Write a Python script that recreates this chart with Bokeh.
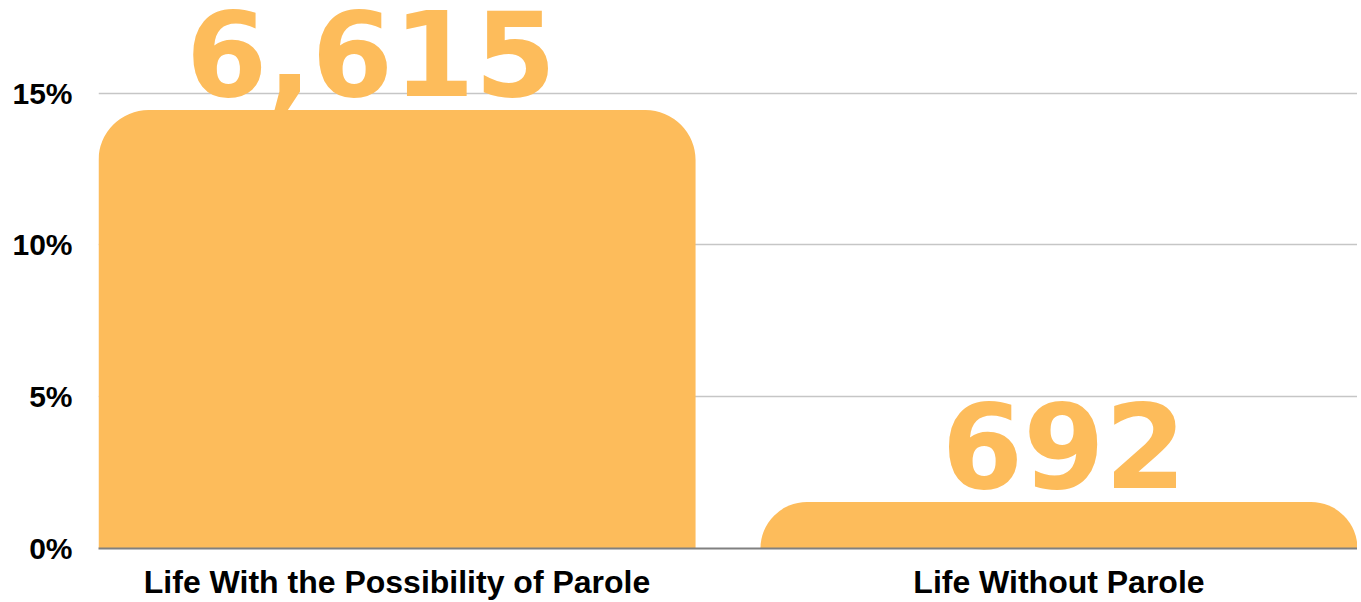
from bokeh.plotting import figure
from bokeh.models import ColumnDataSource, FactorRange, FixedTicker, Range1d
from bokeh.core.properties import value
from bokeh.embed import file_html
from bokeh.resources import INLINE

categories = ["Life With the Possibility of Parole", "Life Without Parole"]
shares = [14.44, 1.53]          # percent of total
counts = ["6,615", "692"]       # value labels
y_ticks = [0, 5, 10, 15]
y_tick_labels = ["0%", "5%", "10%", "15%"]

BAR = "#FDBC5B"
BAR_W = 0.902

p = figure(
    x_range=FactorRange(*categories, range_padding=-(1 - BAR_W) / 2, range_padding_units="absolute"),
    y_range=Range1d(0, 18.05),
    width=1357, height=602,
    output_backend="svg", toolbar_location=None,
    min_border_left=98, min_border_right=0, min_border_top=0, min_border_bottom=51,
)
p.outline_line_color = None
p.background_fill_color = "white"

src = ColumnDataSource(dict(cat=categories, share=shares, label=counts))
p.vbar(x="cat", top="share", width=BAR_W, source=src, fill_color=BAR, line_color=None,
       border_radius=(50, 50, 0, 0))

label_dx = [-26, 5]
for i in range(len(categories)):
    p.text(x=[categories[i]], y=[shares[i]], text=[counts[i]],
           text_font=value("DejaVu Sans"), text_font_style="bold", text_font_size="117px",
           text_color=BAR, text_align="center", text_baseline="alphabetic",
           x_offset=label_dx[i], y_offset=-57)

# y axis
p.yaxis.ticker = FixedTicker(ticks=y_ticks)
p.yaxis.major_label_overrides = {t: l for t, l in zip(y_ticks, y_tick_labels)}
p.yaxis.axis_line_color = None
p.yaxis.major_tick_line_color = None
p.yaxis.minor_tick_line_color = None
p.yaxis.major_tick_out = 0
p.yaxis.major_tick_in = 0
p.yaxis.major_label_standoff = 26
p.yaxis.major_label_text_font = "Liberation Sans"
p.yaxis.major_label_text_font_style = "bold"
p.yaxis.major_label_text_font_size = "30px"
p.yaxis.major_label_text_color = "black"

# x axis
p.xaxis.axis_line_color = "#808080"
p.xaxis.axis_line_width = 2
p.xaxis.major_tick_line_color = None
p.xaxis.minor_tick_line_color = None
p.xaxis.major_tick_out = 0
p.xaxis.major_tick_in = 0
p.xaxis.major_label_standoff = 15
p.xaxis.major_label_text_font = "Liberation Sans"
p.xaxis.major_label_text_font_style = "bold"
p.xaxis.major_label_text_font_size = "32px"
p.xaxis.major_label_text_color = "black"

p.xgrid.grid_line_color = None
p.ygrid.grid_line_color = "#C6C6C6"
p.ygrid.grid_line_width = 1.5

open("out.html", "w").write(file_html(p, INLINE))
